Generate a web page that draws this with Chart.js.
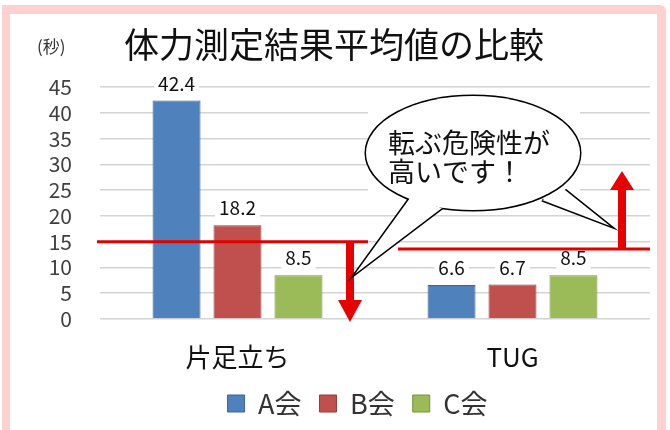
<!DOCTYPE html>
<html><head><meta charset="utf-8">
<script src="https://cdn.jsdelivr.net/npm/chart.js@4.4.0/dist/chart.umd.min.js"></script>
<style>html,body{margin:0;padding:0;background:#fff}#wrap{width:670px;height:430px}</style>
</head><body><div id="wrap"><canvas id="c" width="670" height="430"></canvas></div>
<script>
const categories = ['片足立ち', 'TUG'];
const seriesNames = ['A会', 'B会', 'C会'];
const valuesA = [42.4, 6.6];
const valuesB = [18.2, 6.7];
const valuesC = [8.5, 8.5];
const yTickValues = [0, 5, 10, 15, 20, 25, 30, 35, 40, 45];
const thresholds = [15, 13.6];
const titleText = '体力測定結果平均値の比較';
const unitText = '(秒)';
const bubbleLines = ['転ぶ危険性が', '高いです！'];

const FONT = '"Noto Sans CJK JP", "Noto Sans", sans-serif';
const fills = ['#4f81bd', '#c0504d', '#9bbb59'];
const borders = ['#3a6494', '#953b38', '#76923f'];
const seriesValues = [valuesA, valuesB, valuesC];

const decor = {
  id: 'decor',
  afterLayout(chart) {
    const lg = chart.legend;
    if (lg) { lg.left += 10; lg.right += 10; }
  },
  beforeDraw(chart) {
    const ctx = chart.ctx;
    ctx.save();
    ctx.fillStyle = '#ffffff';
    ctx.fillRect(0, 0, chart.width, chart.height);
    ctx.fillStyle = '#ffd0d0';
    ctx.fillRect(2, 5, 8, 425);
    ctx.beginPath();
    ctx.moveTo(2, 5); ctx.lineTo(660, 5); ctx.arcTo(666, 5, 666, 11, 6);
    ctx.lineTo(666, 430); ctx.lineTo(657, 430); ctx.lineTo(657, 14); ctx.lineTo(2, 14); ctx.closePath();
    ctx.fill();
    ctx.fillStyle = '#111';
    ctx.textBaseline = 'middle';
    ctx.font = '35px ' + FONT;
    ctx.fillText(titleText, 124, 45);
    ctx.font = '17px ' + FONT;
    ctx.fillStyle = '#333';
    ctx.fillText(unitText, 37, 47);
    ctx.restore();
  },
  afterDatasetsDraw(chart) {
    const ctx = chart.ctx;
    const ys = chart.scales.y;
    const ca = chart.chartArea;
    ctx.save();
    ctx.font = '19px ' + FONT;
    ctx.textAlign = 'center';
    ctx.textBaseline = 'middle';
    chart.data.datasets.forEach((ds, di) => {
      chart.getDatasetMeta(di).data.forEach((bar, i) => {
        const txt = ds.data[i].toFixed(1);
        const w = ctx.measureText(txt).width + 8;
        const y = bar.y - 17;
        ctx.fillStyle = '#fff';
        ctx.fillRect(bar.x - w / 2, y - 11, w, 22);
        ctx.fillStyle = '#111';
        ctx.fillText(txt, bar.x, y);
      });
    });
    const y1 = ys.getPixelForValue(thresholds[0]);
    const y2 = ys.getPixelForValue(thresholds[1]);
    ctx.strokeStyle = '#e00000';
    ctx.lineWidth = 3;
    ctx.beginPath(); ctx.moveTo(ca.left - 3, y1); ctx.lineTo(ca.left + 268, y1); ctx.stroke();
    ctx.beginPath(); ctx.moveTo(ca.left + 298, y2); ctx.lineTo(ca.right, y2); ctx.stroke();
    ctx.fillStyle = '#e60000';
    const ax1 = ca.left + 250;
    const tip1 = ys.getPixelForValue(0) + 3;
    ctx.fillRect(ax1 - 4, y1, 8, tip1 - 22 - y1);
    ctx.beginPath(); ctx.moveTo(ax1 - 12, tip1 - 22); ctx.lineTo(ax1 + 12, tip1 - 22); ctx.lineTo(ax1, tip1); ctx.closePath(); ctx.fill();
    const ax2 = ca.left + 522;
    const tip2 = y2 - 78;
    ctx.fillRect(ax2 - 4, tip2 + 18, 8, y2 - tip2 - 18);
    ctx.beginPath(); ctx.moveTo(ax2 - 12, tip2 + 19); ctx.lineTo(ax2 + 12, tip2 + 19); ctx.lineTo(ax2, tip2); ctx.closePath(); ctx.fill();
    ctx.fillStyle = '#fff';
    ctx.fillRect(368, 106, 212, 100);
    const cx = 473, cy = 153, rx = 107, ry = 57;
    const tails = [
      [[410, 198], [355, 274], [442, 208]],
      [[542, 200], [610, 226], [565, 190]]
    ];
    ctx.strokeStyle = '#000';
    ctx.lineWidth = 3;
    ctx.beginPath(); ctx.ellipse(cx, cy, rx, ry, 0, 0, Math.PI * 2); ctx.stroke();
    tails.forEach(t => { ctx.beginPath(); ctx.moveTo(t[0][0], t[0][1]); ctx.lineTo(t[1][0], t[1][1]); ctx.lineTo(t[2][0], t[2][1]); ctx.stroke(); });
    ctx.fillStyle = '#fff';
    ctx.beginPath(); ctx.ellipse(cx, cy, rx, ry, 0, 0, Math.PI * 2); ctx.fill();
    tails.forEach(t => { ctx.beginPath(); ctx.moveTo(t[0][0], t[0][1]); ctx.lineTo(t[1][0], t[1][1]); ctx.lineTo(t[2][0], t[2][1]); ctx.closePath(); ctx.fill(); });
    ctx.fillStyle = '#111';
    ctx.font = '27px ' + FONT;
    ctx.textAlign = 'left';
    ctx.fillText(bubbleLines[0], 388, 143);
    ctx.fillText(bubbleLines[1], 388, 172);
    ctx.restore();
  }
};

new Chart(document.getElementById('c'), {
  type: 'bar',
  data: {
    labels: categories,
    datasets: seriesNames.map((n, i) => ({
      label: n,
      data: seriesValues[i],
      backgroundColor: fills[i],
      borderColor: borders[i],
      borderWidth: 1,
      categoryPercentage: 0.665,
      barPercentage: 0.787
    }))
  },
  options: {
    responsive: false,
    devicePixelRatio: 1,
    animation: false,
    layout: { padding: { left: 45, right: 20, top: 87, bottom: 3 } },
    plugins: {
      legend: {
        position: 'bottom',
        labels: {
          font: { family: FONT, size: 27 },
          color: '#333',
          boxWidth: 17,
          boxHeight: 17,
          padding: 18
        }
      },
      tooltip: { enabled: false }
    },
    scales: {
      x: {
        afterFit(s) { s.height = 53; },
        grid: { display: false, drawTicks: false },
        border: { display: false },
        ticks: { font: { family: FONT, size: 26 }, color: '#111', padding: 23 }
      },
      y: {
        min: 0, max: 45,
        afterFit(s) { s.width = 55; },
        afterBuildTicks(s) { s.ticks = yTickValues.map(v => ({ value: v })); },
        grid: { color: '#d4d4d4', lineWidth: 1.5, drawTicks: false },
        border: { display: false },
        ticks: { font: { family: FONT, size: 21 }, color: '#404040', padding: 28, autoSkip: false }
      }
    }
  },
  plugins: [decor]
});
</script>
</body></html>
